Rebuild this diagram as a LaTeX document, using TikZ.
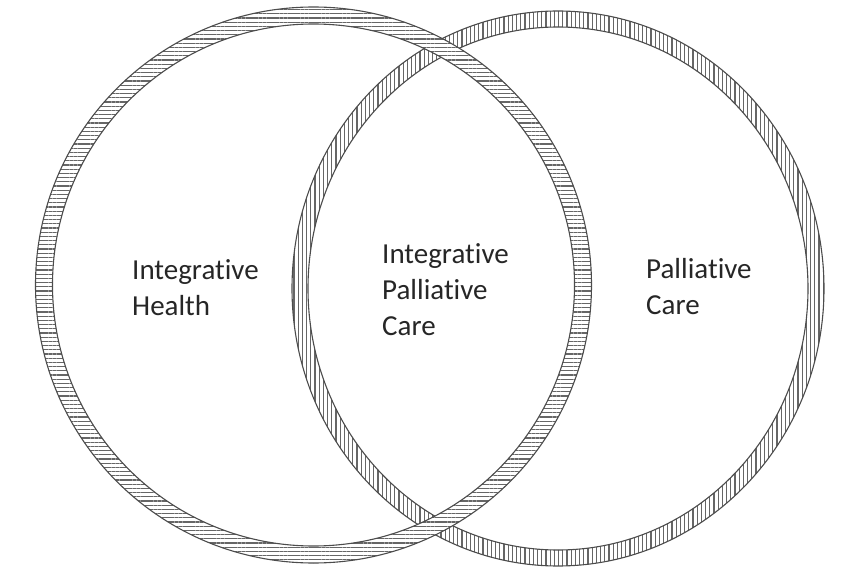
\documentclass[tikz,border=0pt]{standalone}
\usepackage{fontspec}
\setmainfont{Carlito}[Ligatures=NoCommon]
\usetikzlibrary{patterns.meta}
\begin{document}
\begin{tikzpicture}[x=1pt,y=-1pt,
  ringedge/.style={draw=black!70, line width=1.1pt},
  hatchH/.style={pattern={Lines[angle=0,distance=4.2pt,line width=1.1pt]}, pattern color=black!60},
  hatchV/.style={pattern={Lines[angle=90,distance=4.2pt,line width=1.1pt]}, pattern color=black!60},
  lbl/.style={align=left, anchor=north west, inner sep=0pt, text=black!85, font=\fontsize{29}{36}\selectfont}]
\useasboundingbox (0,0) rectangle (854,585);
\coordinate (L) at (313.5,285);
\coordinate (R) at (558,288.5);
% right ring (vertical hatching)
\fill[white, even odd rule] (R) ellipse [x radius=266, y radius=277.5] (R) ellipse [x radius=250, y radius=261.5];
\fill[hatchV, even odd rule] (R) ellipse [x radius=266, y radius=277.5] (R) ellipse [x radius=250, y radius=261.5];
\draw[ringedge] (R) ellipse [x radius=266, y radius=277.5];
\draw[ringedge] (R) ellipse [x radius=250, y radius=261.5];
% left ring (horizontal hatching), on top
\fill[white, even odd rule] (L) circle [radius=278] (L) circle [radius=261];
\fill[hatchH, even odd rule] (L) circle [radius=278] (L) circle [radius=261];
\draw[ringedge] (L) circle [radius=278];
\draw[ringedge] (L) circle [radius=261];
% labels
\node[lbl] (ih) at (132,259) {Integrative\\Health};
\node[lbl] (ipc) at (382,243) {Integrative\\Palliative\\Care};
\node[lbl] (pc) at (646,258) {Palliative\\Care};
\end{tikzpicture}
\end{document}
